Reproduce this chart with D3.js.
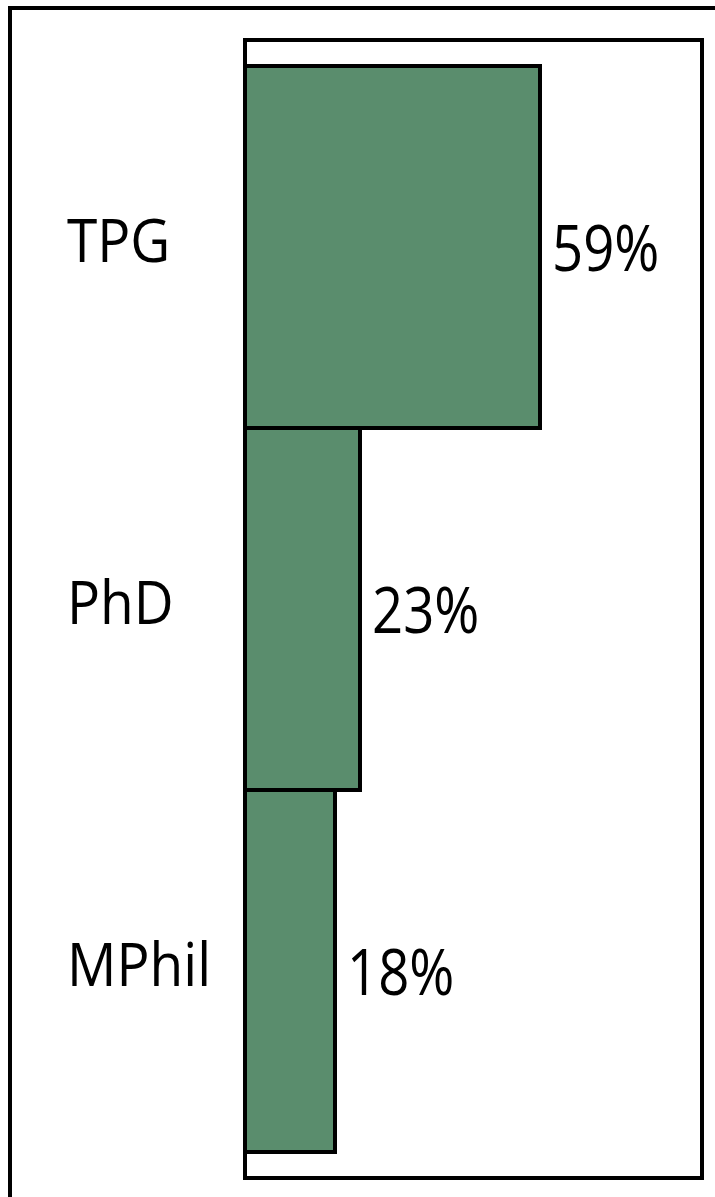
<!DOCTYPE html>
<html>
<head>
<meta charset="utf-8">
<script src="https://cdn.jsdelivr.net/npm/d3@7"></script>
<style>
	html, body { margin: 0; padding: 0; background: #fff; overflow: hidden; }
	text { font-family: "Open Sans", sans-serif; fill: #000; }
</style>
</head>
<body>
<div id="chart"></div>
<script>

// data
var categories = ["TPG", "PhD", "MPhil"];
var shares = [59, 23, 18];	// percent of students

var width = 715, height = 1197;

var svg = d3.select("#chart").append("svg")
	.attr("width", width)
	.attr("height", height);

// outer frame (runs off the right/bottom edge)
svg.append("rect")
	.attr("x", 10).attr("y", 8)
	.attr("width", 730).attr("height", 1200)
	.attr("fill", "none").attr("stroke", "#000").attr("stroke-width", 4);

// plot area frame
var plot = { left: 245, top: 40, right: 702, bottom: 1178 };
svg.append("rect")
	.attr("x", plot.left).attr("y", plot.top)
	.attr("width", plot.right - plot.left).attr("height", plot.bottom - plot.top)
	.attr("fill", "#fff").attr("stroke", "#000").attr("stroke-width", 4);

// scales: 5px per percent
var xScale = d3.scaleLinear()
	.domain([0, 100])
	.range([plot.left, plot.left + 500]);

var yScale = d3.scaleBand()
	.domain(categories)
	.range([66, 1152])
	.paddingInner(0);

var data = categories.map(function(c, i){ return { cat: c, value: shares[i] }; });

var g = svg.append("g");

g.selectAll("rect.bar")
	.data(data).enter()
	.append("rect")
		.attr("class", "bar")
		.attr("x", xScale(0))
		.attr("y", function(d){ return yScale(d.cat) })
		.attr("width", function(d){ return xScale(d.value) - xScale(0) })
		.attr("height", yScale.bandwidth())
		.attr("fill", "#5a8d6d")
		.attr("stroke", "#000")
		.attr("stroke-width", 4);

// value labels (glyphs are stretched vertically in the original)
g.selectAll("text.val")
	.data(data).enter()
	.append("text")
		.attr("class", "val")
		.attr("transform", function(d){
			var y = yScale(d.cat) + yScale.bandwidth() / 2 + 1;
			return "translate(" + (xScale(d.value) + 12) + "," + y + ") scale(1,1.17)";
		})
		.attr("dy", "0.36em")
		.style("font-size", "54.5px")
		.text(function(d){ return d.value + "%" });

// category labels
g.selectAll("text.cat")
	.data(data).enter()
	.append("text")
		.attr("class", "cat")
		.attr("transform", function(d){
			var y = yScale(d.cat) + yScale.bandwidth() / 2 - 6;
			return "translate(67," + y + ") scale(1,1.08)";
		})
		.attr("dy", "0.36em")
		.style("font-size", "55px")
		.text(function(d){ return d.cat });

</script>
</body>
</html>
